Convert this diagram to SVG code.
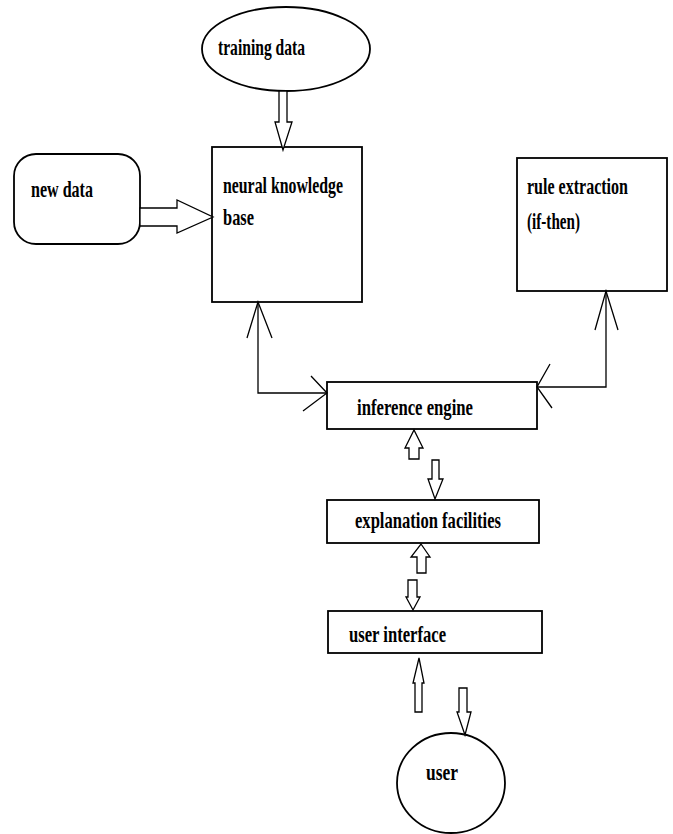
<svg xmlns="http://www.w3.org/2000/svg" width="673" height="834" viewBox="0 0 673 834">
<style>
.n{fill:#fff;stroke:#000;stroke-width:1.8}
.t{font-family:"Liberation Serif","Times New Roman",serif;font-weight:bold;font-size:24px;fill:#000}
.c{fill:none;stroke:#000;stroke-width:1.3}
.h{fill:#fff;stroke:#000;stroke-width:1.3;stroke-linejoin:miter}
</style>
<rect width="673" height="834" fill="#fff"/>
<g id="training-data"><ellipse class="n" cx="286" cy="49" rx="84" ry="42"/><text class="t" x="218" y="55" textLength="87" lengthAdjust="spacingAndGlyphs">training data</text></g>
<g id="new-data"><rect class="n" x="14" y="154" width="126" height="90" rx="22"/><text class="t" x="31" y="197" textLength="62" lengthAdjust="spacingAndGlyphs">new data</text></g>
<g id="neural-kb"><rect class="n" x="212" y="147" width="150" height="155"/><text class="t" x="223" y="193" textLength="120" lengthAdjust="spacingAndGlyphs">neural knowledge</text><text class="t" x="223" y="225" textLength="31" lengthAdjust="spacingAndGlyphs">base</text></g>
<g id="rule-extraction"><rect class="n" x="517" y="158" width="150" height="133"/><text class="t" x="527" y="194" textLength="101" lengthAdjust="spacingAndGlyphs">rule extraction</text><text class="t" x="527" y="229" textLength="53" lengthAdjust="spacingAndGlyphs">(if-then)</text></g>
<g id="inference-engine"><rect class="n" x="327" y="382" width="210" height="47"/><text class="t" x="357" y="415" textLength="116" lengthAdjust="spacingAndGlyphs">inference engine</text></g>
<g id="explanation"><rect class="n" x="327" y="500" width="212" height="43"/><text class="t" x="355" y="528" textLength="146" lengthAdjust="spacingAndGlyphs">explanation facilities</text></g>
<g id="user-interface"><rect class="n" x="328" y="611" width="214" height="42"/><text class="t" x="349" y="642" textLength="97" lengthAdjust="spacingAndGlyphs">user interface</text></g>
<g id="user"><ellipse class="n" cx="451" cy="783" rx="54" ry="50"/><text class="t" x="426" y="780" textLength="32" lengthAdjust="spacingAndGlyphs">user</text></g>
<g id="connectors">
<polygon class="h" points="279,91 287,91 287,122 292,122 283,150 275,122 279,122"/>
<polygon class="h" points="140,208 177,208 177,200 213,217 177,233 177,226 140,226"/>
<polyline class="c" points="258,302 258,393 327,393"/>
<polyline class="c" points="247,338 258,302 272,338"/>
<polyline class="c" points="311,376 327,393 303,411"/>
<polyline class="c" points="606,291 606,387 537,387"/>
<polyline class="c" points="595,330 606,291 618,330"/>
<polyline class="c" points="550,364 537,387 552,408"/>
<polygon class="h" points="409,459 409,448 405,448 414,430 423,448 419,448 419,459"/>
<polygon class="h" points="432,460 439,460 439,479 443,479 435,499 428,479 432,479"/>
<polygon class="h" points="417,573 417,557 411,557 421,544 430,557 426,557 426,573"/>
<polygon class="h" points="408,580 417,580 417,597 420,597 413,610 406,597 408,597"/>
<polygon class="h" points="415,712 415,683 413,683 419,658 424,683 422,683 422,712"/>
<polygon class="h" points="459,688 467,688 467,712 471,712 465,735 457,712 459,712"/>
</g>
</svg>
